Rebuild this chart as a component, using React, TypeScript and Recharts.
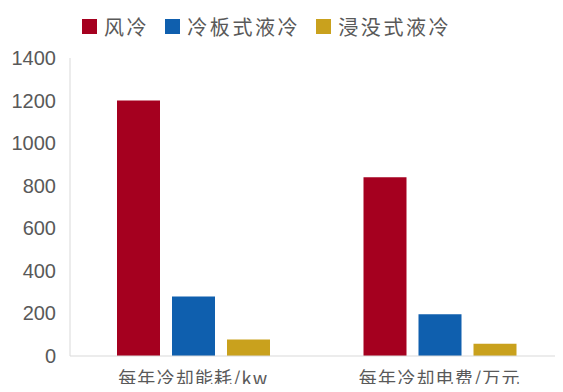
import React from "react";
import { BarChart, Bar, XAxis, YAxis } from "recharts";

const categories = ["每年冷却能耗/kw", "每年冷却电费/万元"];
const airCooling = [1200, 840];
const coldPlate = [280, 196];
const immersion = [78, 58];
const yTicks = [0, 200, 400, 600, 800, 1000, 1200, 1400];

const series = [
  { key: "air", name: "风冷", color: "#a5001f" },
  { key: "plate", name: "冷板式液冷", color: "#0f5fae" },
  { key: "immersion", name: "浸没式液冷", color: "#c9a11d" },
];

const data = categories.map((c, i) => ({
  name: c,
  air: airCooling[i],
  plate: coldPlate[i],
  immersion: immersion[i],
}));

const cjk = '"Noto Sans CJK SC", sans-serif';

const LegendBox = () => (
  <div
    style={{
      position: "absolute",
      top: 12,
      left: 82,
      display: "flex",
      alignItems: "center",
      fontFamily: cjk,
      fontSize: 20,
      color: "#595959",
      whiteSpace: "nowrap",
    }}
  >
    {series.map((s) => (
      <div key={s.key} style={{ display: "flex", alignItems: "center", marginRight: 16 }}>
        <span style={{ width: 15, height: 15, background: s.color, display: "inline-block", marginRight: 7 }} />
        <span style={{ letterSpacing: 2.6 }}>{s.name}</span>
      </div>
    ))}
  </div>
);

const XTick = (props: any) => {
  const { x, y, payload } = props;
  return (
    <text x={x} y={y + 21} textAnchor="middle" fill="#595959" fontSize={18} fontFamily={cjk} letterSpacing={1.2}>
      {payload.value}
    </text>
  );
};

const YTick = (props: any) => {
  const { y, payload } = props;
  return (
    <text x={56} y={y + 7} textAnchor="end" fill="#595959" fontSize={20} fontFamily='"Liberation Sans", Arial, sans-serif'>
      {payload.value}
    </text>
  );
};

export default function App() {
  return (
    <div style={{ margin: -8, width: 563, height: 392, background: "#fff", position: "relative" }}>
      <LegendBox />
      <BarChart
        width={563}
        height={392}
        data={data}
        margin={{ top: 58, right: 0, bottom: 0, left: 0 }}
        barSize={43}
        barGap={12}
      >
        <XAxis
          dataKey="name"
          height={36}
          axisLine={{ stroke: "#d9d9d9" }}
          tickLine={false}
          tick={<XTick />}
          interval={0}
        />
        <YAxis
          width={70}
          domain={[0, 1400]}
          ticks={yTicks}
          axisLine={{ stroke: "#d9d9d9" }}
          tickLine={false}
          tick={<YTick />}
        />
        {series.map((s) => (
          <Bar key={s.key} dataKey={s.key} name={s.name} fill={s.color} isAnimationActive={false} />
        ))}
      </BarChart>
    </div>
  );
}
